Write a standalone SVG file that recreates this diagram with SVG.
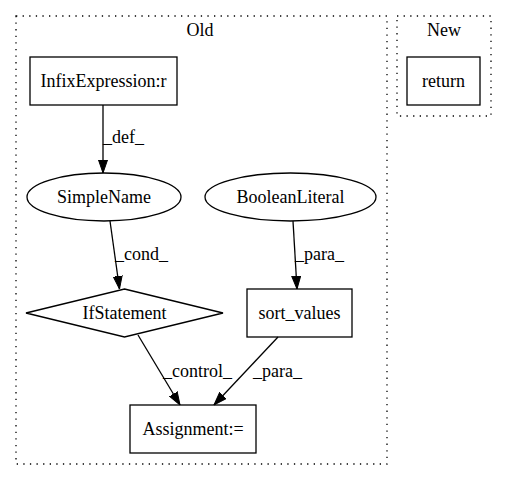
<svg xmlns="http://www.w3.org/2000/svg" width="507" height="480" viewBox="0 0 507 480">
<defs>
<style>
text{font-family:"Liberation Serif","Times New Roman",serif;font-size:18px;fill:#000}
.c{text-anchor:middle}
.cl{fill:none;stroke:#000;stroke-dasharray:1.3,5.3;stroke-width:1.3}
.n{fill:none;stroke:#000;stroke-width:1.3}
.e{fill:none;stroke:#000;stroke-width:1.3}
</style>
<marker id="ah" markerWidth="13" markerHeight="10" refX="13" refY="5" orient="auto" markerUnits="userSpaceOnUse">
<path d="M0,0.5 L13,5 L0,9.5 Z" fill="#000" stroke="#000"/>
</marker>
</defs>
<rect width="507" height="480" fill="#fff"/>
<g id="cluster_old">
<rect class="cl" x="16" y="16" width="371" height="448"/>
<text class="c" x="200" y="36">Old</text>
</g>
<g id="cluster_new">
<rect class="cl" x="397" y="16" width="94" height="100"/>
<text class="c" x="444" y="36">New</text>
</g>
<g id="connectors">
<path class="e" d="M103,105 L103,173" marker-end="url(#ah)"/>
<text x="103" y="143">_def_</text>
<path class="e" d="M110,221 L119.5,289" marker-end="url(#ah)"/>
<text x="115" y="260">_cond_</text>
<path class="e" d="M293,221 L297,289" marker-end="url(#ah)"/>
<text x="295" y="260">_para_</text>
<path class="e" d="M138,335 L180,405" marker-end="url(#ah)"/>
<text x="163" y="377">_control_</text>
<path class="e" d="M278,337 L214,405" marker-end="url(#ah)"/>
<text x="253" y="377">_para_</text>
</g>
<g id="InfixExpression">
<rect class="n" x="30" y="57" width="147" height="48"/>
<text class="c" x="103.5" y="87">InfixExpression:r</text>
</g>
<g id="return">
<rect class="n" x="407" y="57" width="73" height="48"/>
<text class="c" x="443.5" y="87">return</text>
</g>
<g id="SimpleName">
<ellipse class="n" cx="104" cy="197" rx="77" ry="24"/>
<text class="c" x="104" y="203">SimpleName</text>
</g>
<g id="BooleanLiteral">
<ellipse class="n" cx="290.5" cy="197" rx="85.5" ry="24"/>
<text class="c" x="290.5" y="203">BooleanLiteral</text>
</g>
<g id="IfStatement">
<polygon class="n" points="124.5,289 223,313 124.5,337 26,313"/>
<text class="c" x="124.5" y="319">IfStatement</text>
</g>
<g id="sort_values">
<rect class="n" x="247" y="289" width="105" height="48"/>
<text class="c" x="299.5" y="319">sort_values</text>
</g>
<g id="Assignment">
<rect class="n" x="130" y="405" width="126" height="48"/>
<text class="c" x="193" y="435">Assignment:=</text>
</g>
</svg>
